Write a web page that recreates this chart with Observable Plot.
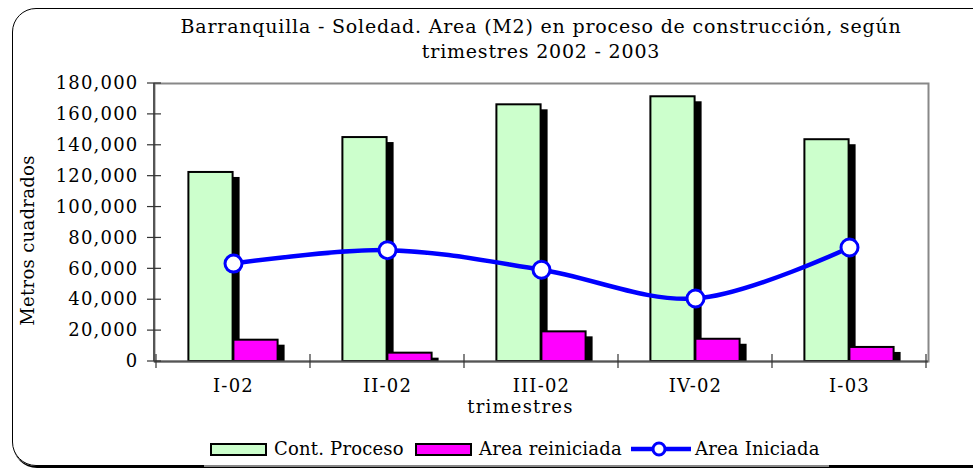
<!DOCTYPE html>
<html><head><meta charset="utf-8">
<script src="https://cdn.jsdelivr.net/npm/d3@7"></script>
<script src="https://cdn.jsdelivr.net/npm/@observablehq/plot@0.6"></script>
<style>
body{margin:0;overflow:hidden;background:#fff;}
#wrap{position:relative;width:973px;height:468px;overflow:hidden;font-family:"DejaVu Serif",serif;color:#000;}
#border{position:absolute;left:12px;top:8px;width:1000px;height:458px;border:1.5px solid #000;border-radius:24px;box-shadow:1px 2px 0 #000;box-sizing:border-box;}
#title{position:absolute;left:141px;width:800px;top:14px;text-align:center;font-family:"DejaVu Serif",serif;font-size:19px;letter-spacing:0.8px;line-height:25px;}
#chart{position:absolute;left:0;top:0;}
.lg{position:absolute;font-family:"DejaVu Serif",serif;font-size:18px;letter-spacing:0.2px;line-height:20px;top:439px;white-space:nowrap;}
.sw{position:absolute;top:443px;width:57px;height:13px;border:2px solid #000;box-sizing:border-box;}
#lgline{position:absolute;left:204px;width:625px;top:465px;height:2px;background:#888;}
</style></head>
<body><div id="wrap">
<div id="border"></div>
<div id="lgline"></div>
<div id="title">Barranquilla - Soledad. Area (M2) en proceso de construcción, según<br>trimestres 2002 - 2003</div>
<div id="chart"></div>
<div id="legend"></div>
</div>
<script>
const categories = ["I-02", "II-02", "III-02", "IV-02", "I-03"];
const contProceso = [122400, 145000, 166200, 171400, 143600];
const areaReiniciada = [13800, 5400, 19200, 14400, 9100];
const areaIniciada = [63400, 72100, 59400, 40800, 73800];
const yTicks = [0, 20000, 40000, 60000, 80000, 100000, 120000, 140000, 160000, 180000];
const seriesNames = ["Cont. Proceso", "Area reiniciada", "Area Iniciada"];
const colors = ["#CCFFCC", "#FF00FF", "#0000FF"];

const rows = categories.map((c, i) => ({cat: c, cont: contProceso[i], rein: areaReiniciada[i], inic: areaIniciada[i]}));

const W = 973, H = 468, mL = 154, mR = 45, mT = 83, mB = 107;
const bw = (W - mL - mR) / categories.length;
const barW = 45;

function crossTicks(index, scales, values, dims) {
  const g = d3.create("svg:g").attr("stroke", "#333").attr("stroke-width", 1.2);
  const x0 = dims.marginLeft, yb = dims.height - dims.marginBottom;
  g.append("line").attr("x1", x0).attr("x2", x0).attr("y1", dims.marginTop).attr("y2", yb).attr("stroke", "#555").attr("stroke-width", 2);
  for (const t of yTicks) {
    const y = scales.y(t);
    g.append("line").attr("x1", x0 - 7).attr("x2", x0 + 7).attr("y1", y).attr("y2", y);
  }
  const xs = scales.x;
  const bwid = typeof xs.bandwidth === "function" ? xs.bandwidth() : (xs.bandwidth ?? bw);
  const bounds = categories.map(c => xs(c)).concat([xs(categories[categories.length - 1]) + bwid]);
  for (const b of bounds) {
    g.append("line").attr("x1", b).attr("x2", b).attr("y1", yb - 7).attr("y2", yb + 7);
  }
  return g.node();
}

const chart = Plot.plot({
  width: W, height: H,
  marginLeft: mL, marginRight: mR, marginTop: mT, marginBottom: mB,
  style: {fontFamily: "DejaVu Serif", fontSize: "18px", letterSpacing: "1.2px", color: "#000", background: "transparent", overflow: "visible"},
  x: {type: "band", domain: categories, padding: 0, label: null},
  y: {domain: [0, 180000], label: null},
  marks: [
    Plot.frame({stroke: "#888", strokeWidth: 2}),
    Plot.barY(rows, {x: "cat", y: "cont", fill: "#000", insetLeft: bw / 2 - barW, insetRight: bw / 2, dx: 7, insetTop: 5}),
    Plot.barY(rows, {x: "cat", y: "cont", fill: colors[0], stroke: "#000", strokeWidth: 2, insetLeft: bw / 2 - barW, insetRight: bw / 2}),
    Plot.barY(rows, {x: "cat", y: "rein", fill: "#000", insetLeft: bw / 2, insetRight: bw / 2 - barW, dx: 7, insetTop: 5}),
    Plot.barY(rows, {x: "cat", y: "rein", fill: colors[1], stroke: "#000", strokeWidth: 2, insetLeft: bw / 2, insetRight: bw / 2 - barW}),
    Plot.ruleY([0], {stroke: "#555", strokeWidth: 2}),
    crossTicks,
    Plot.line(rows, {x: "cat", y: "inic", stroke: colors[2], strokeWidth: 4.5, curve: "catmull-rom"}),
    Plot.dot(rows, {x: "cat", y: "inic", r: 8.5, fill: "#fff", stroke: colors[2], strokeWidth: 3}),
    Plot.axisY(yTicks, {tickFormat: d3.format(","), tickSize: 0, tickPadding: 16, fontSize: 18, label: null}),
    Plot.axisX({tickSize: 0, tickPadding: 18, fontSize: 18, label: null}),
    Plot.text(["trimestres"], {frameAnchor: "bottom", dx: -21, dy: 51, fontSize: 18}),
    Plot.text(["Metros cuadrados"], {frameAnchor: "left", textAnchor: "middle", dx: -126, dy: 18, rotate: -90, fontSize: 18, letterSpacing: "0.3px"})
  ]
});
document.getElementById("chart").append(chart);
// the rotated label uses tighter spacing than the tick labels
chart.querySelectorAll("text").forEach(t => { if (t.textContent === "Metros cuadrados") t.style.letterSpacing = "0.3px"; });

// legend
const lg = document.getElementById("legend");
const swX = [210, 415];
const txX = [274, 479, 695];
[0, 1].forEach(i => {
  const s = document.createElement("div");
  s.className = "sw"; s.style.left = swX[i] + "px"; s.style.background = colors[i];
  lg.append(s);
});
const ls = d3.create("svg").attr("width", 60).attr("height", 18)
  .style("position", "absolute").style("left", "631px").style("top", "440px");
ls.append("line").attr("x1", 0).attr("x2", 60).attr("y1", 9).attr("y2", 9).attr("stroke", colors[2]).attr("stroke-width", 4.5);
ls.append("circle").attr("cx", 28).attr("cy", 9).attr("r", 6).attr("fill", "#fff").attr("stroke", colors[2]).attr("stroke-width", 3);
lg.append(ls.node());
seriesNames.forEach((n, i) => {
  const t = document.createElement("div");
  t.className = "lg"; t.style.left = txX[i] + "px"; t.textContent = n;
  lg.append(t);
});
</script>
</body></html>
